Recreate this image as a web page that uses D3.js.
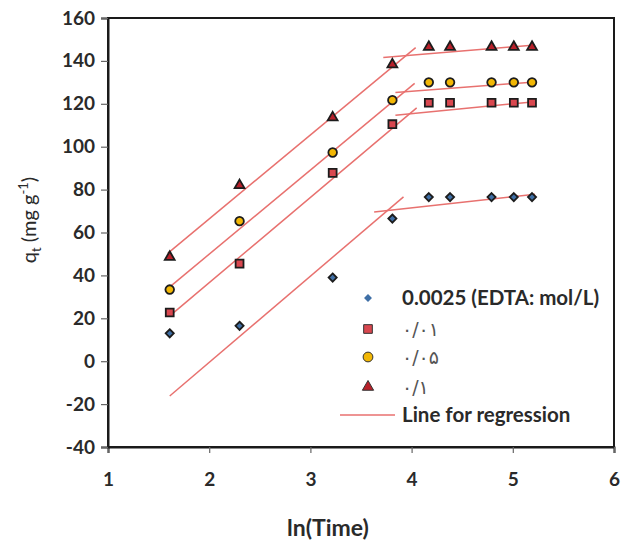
<!DOCTYPE html>
<html><head><meta charset="utf-8">
<script src="https://cdn.jsdelivr.net/npm/d3@7"></script>
<style>body{margin:0;background:#fff}</style>
</head><body>
<svg id="c" width="626" height="542"></svg>
<script>
// ---- data ----
const lnTime = [1.61, 2.30, 3.22, 3.81, 4.17, 4.38, 4.79, 5.01, 5.19];
const seriesNames = ["0.0025 (EDTA: mol/L)", "۰/۰۱", "۰/۰۵", "۰/۱"];
const qDiamond  = [13, 16.5, 39, 66.5, 76.5, 76.5, 76.5, 76.5, 76.5];
const qSquare   = [22.7, 45.5, 87.8, 110.5, 120.5, 120.5, 120.5, 120.5, 120.5];
const qCircle   = [33.4, 65.3, 97.3, 121.7, 130, 130, 130, 130, 130];
const qTriangle = [48.6, 82, 113.6, 138.3, 146.5, 146.5, 146.5, 146.5, 146.5];
// regression segments [x1, y1, x2, y2] in data units
const regDiamond  = [[1.61, -16.2, 3.92, 76.6], [3.63, 69.6, 5.22, 77.8]];
const regSquare   = [[1.64, 22.3, 4.05, 118.1], [3.84, 114.7, 5.22, 121.0]];
const regCircle   = [[1.62, 35.0, 4.03, 129.5], [3.84, 125.3, 5.22, 130.2]];
const regTriangle = [[1.59, 50.3, 4.04, 146.2], [3.72, 141.6, 5.22, 147.4]];
const xTicks = [1, 2, 3, 4, 5, 6];
const yTicks = [-40, -20, 0, 20, 40, 60, 80, 100, 120, 140, 160];

const svg = d3.select("#c");
const L = 108, R = 614, T = 18, B = 447;
const x = d3.scaleLinear().domain([1, 6]).range([L, R]);
const y = d3.scaleLinear().domain([-40, 160]).range([B, T]);
const font = "Lato, 'Open Sans', sans-serif";
const ink = "#2a2a2a";

// frame
svg.append("rect").attr("x", L).attr("y", T).attr("width", R - L).attr("height", B - T)
  .attr("fill", "none").attr("stroke", "#1a1a1a").attr("stroke-width", 2);

// axes
const xAxis = svg.append("g").attr("transform", `translate(0,${B})`)
  .call(d3.axisBottom(x).tickValues(xTicks).tickSize(6).tickPadding(20).tickFormat(d => String(d)));
const yAxis = svg.append("g").attr("transform", `translate(${L},0)`)
  .call(d3.axisLeft(y).tickValues(yTicks).tickSize(7).tickPadding(6).tickFormat(d => String(d)));
[xAxis, yAxis].forEach(g => {
  g.select(".domain").attr("stroke", "#1a1a1a").attr("stroke-width", 2);
  g.selectAll(".tick line").attr("stroke", "#666").attr("stroke-width", 1.2);
  g.selectAll(".tick text").attr("font-family", font).attr("font-size", 19)
    .attr("font-weight", "bold").attr("fill", ink);
});

// axis titles
svg.append("text").attr("x", 328).attr("y", 536).attr("text-anchor", "middle")
  .attr("font-family", font).attr("font-size", 23).attr("font-weight", "bold").attr("fill", ink)
  .text("ln(Time)");
const yt = svg.append("text").attr("transform", "translate(36,220) rotate(-90)")
  .attr("text-anchor", "middle").attr("font-family", font).attr("font-size", 20).attr("fill", ink);
yt.append("tspan").text("q");
yt.append("tspan").attr("font-size", 13).attr("dy", 5).text("t");
yt.append("tspan").attr("dy", -5).text(" (mg g");
yt.append("tspan").attr("font-size", 13).attr("dy", -8).text("-1");
yt.append("tspan").attr("dy", 8).text(")");

// regression lines
const regColor = "#e8716f";
[regDiamond, regSquare, regCircle, regTriangle].forEach(segs => {
  svg.append("g").selectAll("line").data(segs).join("line")
    .attr("x1", d => x(d[0])).attr("y1", d => y(d[1]))
    .attr("x2", d => x(d[2])).attr("y2", d => y(d[3]))
    .attr("stroke", regColor).attr("stroke-width", 1.5);
});

// markers
const styles = [
  {vals: qDiamond,  sym: d3.symbolDiamond2, size: 42, fill: "#3f6fa6"},
  {vals: qSquare,   sym: d3.symbolSquare,   size: 62, fill: "#d9474f"},
  {vals: qCircle,   sym: d3.symbolCircle,   size: 58, fill: "#f2b705"},
  {vals: qTriangle, sym: d3.symbolTriangle, size: 42, fill: "#b8202a"}
];
styles.forEach(s => {
  svg.append("g").selectAll("path").data(s.vals).join("path")
    .attr("transform", (d, i) => `translate(${x(lnTime[i])},${y(d)})`)
    .attr("d", d3.symbol().type(s.sym).size(s.size))
    .attr("fill", s.fill).attr("stroke", "#1c1c1c").attr("stroke-width", 1.8);
});

// legend
const legY = [298, 329, 357, 387];
const leg = svg.append("g");
styles.forEach((s, i) => {
  leg.append("path").attr("transform", `translate(368,${legY[i]})`)
    .attr("d", d3.symbol().type(s.sym).size(i === 0 ? 40 : (i === 3 ? 55 : 75)))
    .attr("fill", s.fill).attr("stroke", i === 0 ? "none" : "#333").attr("stroke-width", 1);
  leg.append("text").attr("x", 402).attr("y", legY[i]).attr("dy", "0.35em")
    .attr("font-family", i === 0 ? font : "'DejaVu Sans', sans-serif")
    .attr("font-size", i === 0 ? 20.5 : 19).attr("font-weight", i === 0 ? "bold" : "normal")
    .attr("fill", i === 0 ? ink : "#555")
    .text(seriesNames[i]);
});
leg.append("line").attr("x1", 340).attr("x2", 395).attr("y1", 415).attr("y2", 415)
  .attr("stroke", regColor).attr("stroke-width", 1.5);
leg.append("text").attr("x", 402).attr("y", 415).attr("dy", "0.35em")
  .attr("font-family", font).attr("font-size", 20.5).attr("font-weight", "bold").attr("fill", ink)
  .text("Line for regression");
</script>
</body></html>
